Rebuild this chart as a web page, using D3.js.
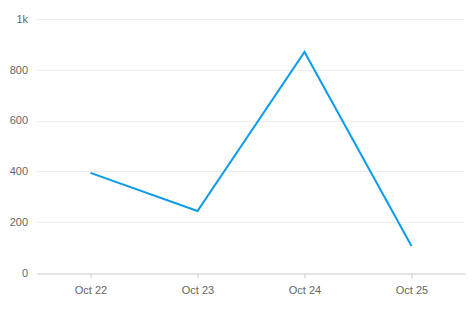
<!DOCTYPE html>
<html>
<head>
<meta charset="utf-8">
<script src="https://cdn.jsdelivr.net/npm/d3@7"></script>
<style>
  body { margin: 0; background: #fff; }
  svg text { font-family: "Liberation Sans", Arial, sans-serif; font-size: 11px; fill: #666; }
</style>
</head>
<body>
<svg width="472" height="317"></svg>
<script>
var categories = ["Oct 22", "Oct 23", "Oct 24", "Oct 25"];
var values = [394, 244, 870, 106];
var yTicks = [0, 200, 400, 600, 800, 1000];

var svg = d3.select("svg"),
    margin = {top: 19, right: 7, bottom: 44, left: 37},
    width = 472 - margin.left - margin.right,
    height = 317 - margin.top - margin.bottom,
    g = svg.append("g").attr("transform", "translate(" + margin.left + "," + margin.top + ")");

var x = d3.scalePoint()
    .domain(categories)
    .range([0, width])
    .padding(0.5);

var y = d3.scaleLinear()
    .domain([0, 1000])
    .range([height, 0]);

// grid lines
g.selectAll(".grid")
    .data(yTicks.slice(1))
    .enter().append("line")
    .attr("x1", 0).attr("x2", width)
    .attr("y1", function(d){ return Math.round(y(d)) + 0.5; })
    .attr("y2", function(d){ return Math.round(y(d)) + 0.5; })
    .attr("stroke", "#eeeeee");

// y labels
g.selectAll(".ylab")
    .data(yTicks)
    .enter().append("text")
    .attr("x", -9)
    .attr("y", function(d){ return y(d); })
    .attr("dy", "0.35em")
    .attr("text-anchor", "end")
    .text(function(d){ return d >= 1000 ? d/1000 + "k" : d; });

// x axis
var xAxis = d3.axisBottom(x).tickSizeInner(5).tickSizeOuter(0).tickPadding(8);
var ax = g.append("g")
    .attr("transform", "translate(0," + (Math.round(height) + 0.5) + ")")
    .call(xAxis);
ax.select(".domain").attr("stroke", "#cccccc");
ax.selectAll(".tick line").attr("stroke", "#cccccc");
ax.selectAll(".tick text").attr("fill", "#666").style("font-size", "11px")
    .style("font-family", "'Liberation Sans', Arial, sans-serif");

var line = d3.line()
    .x(function(d, i){ return x(categories[i]); })
    .y(function(d){ return y(d); });

g.append("path")
    .datum(values)
    .attr("fill", "none")
    .attr("stroke", "#0c9be8")
    .attr("stroke-width", 2)
    .attr("stroke-linejoin", "miter")
    .attr("d", line);
</script>
</body>
</html>
